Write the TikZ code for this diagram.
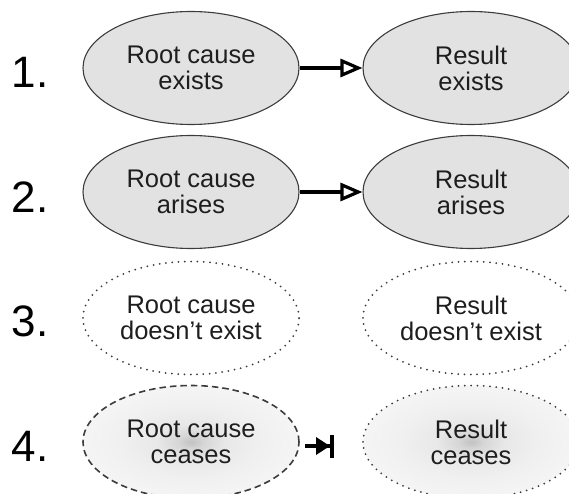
\documentclass[tikz,border=0pt]{standalone}
\usepackage{fontspec}
\setmainfont{Liberation Sans}
\usetikzlibrary{shapes.geometric,arrows.meta}
\definecolor{fillgray}{RGB}{226,226,226}
\definecolor{edgegray}{RGB}{60,60,60}
\definecolor{txt}{RGB}{30,30,30}
\pgfdeclareradialshading{softspot}{\pgfpoint{0bp}{0bp}}{%
  color(0bp)=(black!24); color(3bp)=(black!16); color(8bp)=(black!9);
  color(16bp)=(black!6); color(25bp)=(black!4); color(50bp)=(black!4)}
\tikzset{
  oval/.style={ellipse, minimum width=216pt, minimum height=113pt, inner sep=0pt,
    align=center, text=txt, font=\fontsize{25.5}{26}\selectfont},
  solidoval/.style={oval, draw=edgegray, line width=1.1pt, fill=fillgray},
  dottedoval/.style={oval, draw=edgegray, line width=2pt, line cap=round,
    dash pattern=on 0pt off 6.3pt},
  dashedoval/.style={oval, draw=edgegray, line width=1.6pt, dash pattern=on 6.5pt off 4pt},
  shadedoval/.style={shading=softspot},
  rowlabel/.style={font=\fontsize{44}{44}\selectfont, text=black, inner sep=0pt},
  causes/.style={line width=3.8pt, -{Triangle[open, length=22pt, width=18pt, line width=3.2pt]}},
  inhibit/.style={line width=4pt, -{Triangle[length=14pt, width=17pt, sep=0pt]Bar[width=23pt, line width=4pt]}}
}
\begin{document}
\begin{tikzpicture}[x=1pt, y=-1pt]
\useasboundingbox (0,0) rectangle (569,494);
% row labels
\node[rowlabel] (l1) at (30,72) {1.};
\node[rowlabel] (l2) at (30,197) {2.};
\node[rowlabel] (l3) at (30,321) {3.};
\node[rowlabel] (l4) at (30,446) {4.};
% row 1
\node[solidoval] (c1) at (191,68) {Root cause\\exists};
\node[solidoval] (r1) at (471,68) {Result\\exists};
\draw[causes] (c1) -- (r1);
% row 2
\node[solidoval] (c2) at (191,192) {Root cause\\arises};
\node[solidoval] (r2) at (471,192) {Result\\arises};
\draw[causes] (c2) -- (r2);
% row 3
\node[dottedoval] (c3) at (191,318) {Root cause\\doesn’t exist};
\node[dottedoval] (r3) at (471,318) {Result\\doesn’t exist};
% row 4
\node[dashedoval, shadedoval] (c4) at (191,442) {Root cause\\ceases};
\node[dottedoval, shadedoval] (r4) at (471,442) {Result\\ceases};
\draw[inhibit, shorten <=5pt, shorten >=28pt] ([yshift=-4pt]c4.east) -- ([yshift=-4pt]r4.west);
\end{tikzpicture}
\end{document}
